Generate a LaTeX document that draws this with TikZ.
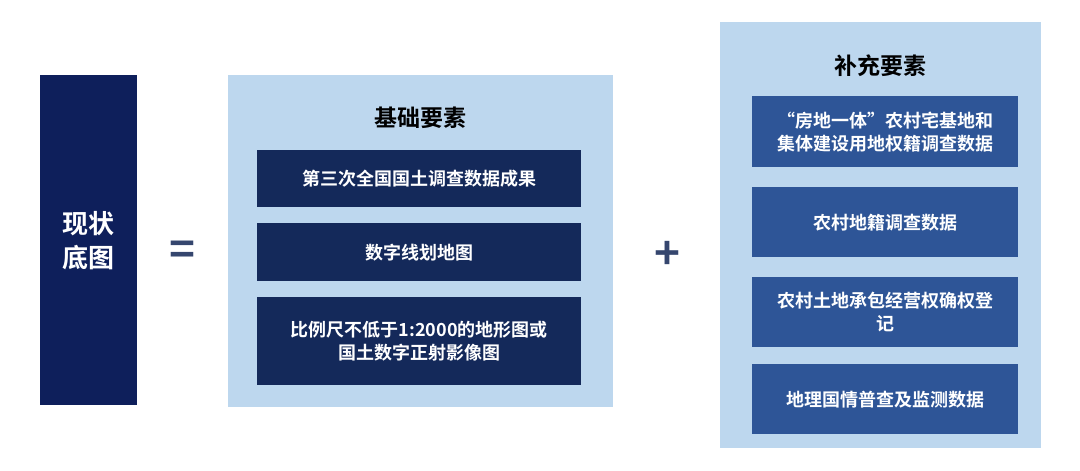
\documentclass[tikz,border=0pt]{standalone}
\usepackage{fontspec}
\setmainfont{Noto Sans CJK SC}[BoldFont={Noto Sans CJK SC Bold}]
\usetikzlibrary{positioning}
\definecolor{navy}{HTML}{0E1F5B}
\definecolor{darkbox}{HTML}{14295A}
\definecolor{midbox}{HTML}{2E5597}
\definecolor{pale}{HTML}{BDD7EE}
\definecolor{signcol}{HTML}{35466E}
\tikzset{
  panel/.style={fill=pale,draw=none,anchor=north west,inner sep=0pt},
  basebox/.style={fill=darkbox,text=white,font=\bfseries\fontsize{18}{23}\selectfont,
    minimum width=324pt,align=center,anchor=north west,inner sep=0pt},
  addbox/.style={fill=midbox,text=white,font=\bfseries\fontsize{18}{23}\selectfont,
    minimum width=266pt,minimum height=70pt,align=center,anchor=north west,inner sep=0pt},
  heading/.style={font=\bfseries\fontsize{23}{27}\selectfont,text=black},
  sign/.style={font=\bfseries\fontsize{44}{44}\selectfont,text=signcol}
}
\begin{document}
\begin{tikzpicture}[x=1pt,y=-1pt]
  \useasboundingbox (0,0) rectangle (1080,471);
  % left block
  \node[fill=navy,text=white,font=\bfseries\fontsize{26}{34}\selectfont,align=center,
    minimum width=97pt,minimum height=330pt,anchor=north west,inner sep=0pt]
    (base) at (40,75) {现状\\底图};
  \node[sign] (eq) at (182,253) {=};
  % basic elements
  \node[panel,minimum width=385pt,minimum height=332pt] (basic) at (228,75) {};
  \node[heading] (basictitle) at (420,118) {基础要素};
  \node[basebox,minimum height=57pt] (b1) at (257,150) {第三次全国国土调查数据成果};
  \node[basebox,minimum height=58pt] (b2) at (257,223) {数字线划地图};
  \node[basebox,minimum height=88pt] (b3) at (257,297) {比例尺不低于1:2000的地形图或\\国土数字正射影像图};
  \node[sign] (plus) at (667,255) {+};
  % supplementary elements
  \node[panel,minimum width=321pt,minimum height=426pt] (extra) at (720,22) {};
  \node[heading] (extratitle) at (880,66) {补充要素};
  \node[addbox,minimum height=71pt] (a1) at (752,96) {“房地一体”农村宅基地和\\集体建设用地权籍调查数据};
  \node[addbox] (a2) at (752,187) {农村地籍调查数据};
  \node[addbox] (a3) at (752,277) {农村土地承包经营权确权登\\记};
  \node[addbox] (a4) at (752,364) {地理国情普查及监测数据};
\end{tikzpicture}
\end{document}
